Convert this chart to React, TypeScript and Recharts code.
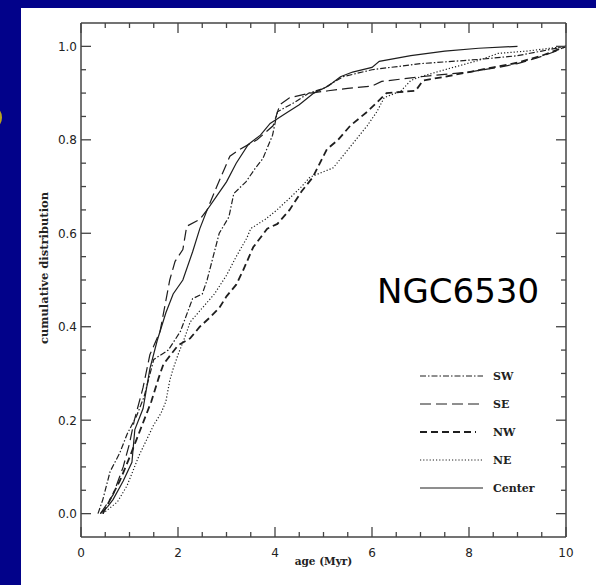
import { LineChart, Line, XAxis, YAxis, Legend } from 'recharts';

// [age (Myr), cumulative fraction]
const sw = [
  [0.35, 0], [0.45, 0.03], [0.6, 0.09], [0.8, 0.13], [0.95, 0.17], [1.15, 0.21], [1.3, 0.25],
  [1.5, 0.33], [1.8, 0.35], [2.05, 0.39], [2.3, 0.46], [2.5, 0.47], [2.6, 0.5], [2.75, 0.56],
  [2.85, 0.6], [3.05, 0.635], [3.15, 0.685], [3.4, 0.71], [3.6, 0.74], [3.75, 0.76], [3.95, 0.81],
  [4.05, 0.86], [4.4, 0.88], [4.7, 0.9], [5.0, 0.91], [5.4, 0.935], [6.0, 0.95], [7.0, 0.963],
  [8.2, 0.972], [9.0, 0.98], [9.5, 0.99], [10, 1.0],
];
const se = [
  [0.4, 0], [0.66, 0.04], [0.87, 0.1], [1.0, 0.15], [1.1, 0.2], [1.28, 0.27], [1.42, 0.34],
  [1.63, 0.39], [1.83, 0.5], [1.94, 0.54], [2.1, 0.565], [2.18, 0.615], [2.45, 0.63], [2.6, 0.65],
  [2.8, 0.7], [3.07, 0.765], [3.28, 0.78], [3.63, 0.8], [3.96, 0.83], [4.1, 0.875], [4.3, 0.89],
  [4.72, 0.9], [5.1, 0.905], [5.5, 0.91], [6.0, 0.915], [6.2, 0.925], [7.0, 0.935], [8.0, 0.945],
  [8.6, 0.955], [9.0, 0.963], [9.4, 0.975], [9.8, 0.99], [10, 1.0],
];
const nw = [
  [0.45, 0], [0.6, 0.03], [0.8, 0.07], [1.0, 0.12], [1.15, 0.16], [1.3, 0.2], [1.45, 0.24],
  [1.6, 0.29], [1.7, 0.32], [1.85, 0.34], [2.0, 0.36], [2.25, 0.375], [2.45, 0.4], [2.66, 0.42],
  [2.85, 0.44], [3.0, 0.465], [3.2, 0.49], [3.34, 0.52], [3.55, 0.57], [3.84, 0.61], [4.05, 0.62],
  [4.3, 0.65], [4.55, 0.69], [4.78, 0.72], [5.07, 0.78], [5.3, 0.8], [5.55, 0.83], [5.9, 0.86],
  [6.1, 0.88], [6.3, 0.9], [6.9, 0.905], [7.05, 0.927], [7.5, 0.935], [8.0, 0.945], [8.5, 0.955],
  [9.0, 0.965], [9.5, 0.98], [10, 1.0],
];
const ne = [
  [0.45, 0], [0.75, 0.025], [0.95, 0.06], [1.2, 0.125], [1.5, 0.19], [1.65, 0.215], [1.75, 0.24],
  [1.83, 0.285], [1.9, 0.31], [2.0, 0.34], [2.15, 0.38], [2.25, 0.41], [2.5, 0.44], [2.75, 0.47],
  [3.0, 0.51], [3.2, 0.55], [3.42, 0.59], [3.5, 0.61], [3.8, 0.63], [4.04, 0.65], [4.3, 0.675],
  [4.55, 0.7], [4.72, 0.72], [5.2, 0.74], [5.55, 0.785], [5.9, 0.83], [6.1, 0.86], [6.25, 0.89],
  [6.6, 0.905], [6.8, 0.927], [7.0, 0.935], [7.5, 0.95], [8.2, 0.97], [8.6, 0.985], [9.2, 0.99],
  [10, 1.0],
];
const center = [
  [0.4, 0], [0.55, 0.015], [0.66, 0.03], [0.87, 0.07], [1.05, 0.11], [1.11, 0.18], [1.28, 0.225],
  [1.42, 0.31], [1.57, 0.37], [1.75, 0.43], [1.9, 0.47], [2.1, 0.5], [2.3, 0.56], [2.45, 0.61],
  [2.6, 0.65], [2.8, 0.68], [3.0, 0.71], [3.2, 0.75], [3.45, 0.79], [3.7, 0.81], [3.9, 0.835],
  [4.2, 0.855], [4.5, 0.875], [4.8, 0.9], [5.1, 0.915], [5.35, 0.935], [5.6, 0.945], [6.0, 0.955],
  [6.15, 0.968], [6.8, 0.98], [7.5, 0.99], [8.2, 0.996], [9.0, 1.0],
];

const xTicks = [0, 0.5, 1, 1.5, 2, 2.5, 3, 3.5, 4, 4.5, 5, 5.5, 6, 6.5, 7, 7.5, 8, 8.5, 9, 9.5, 10];
const yTicks = [
  0, 0.05, 0.1, 0.15, 0.2, 0.25, 0.3, 0.35, 0.4, 0.45, 0.5, 0.55, 0.6, 0.65, 0.7, 0.75, 0.8,
  0.85, 0.9, 0.95, 1.0,
];

const INK = '#1e1e1e';
const AXIS = '#444';
const TICK_FONT = '"DejaVu Sans", sans-serif';
const LABEL_FONT = '"DejaVu Serif", serif';

const series = [
  { name: 'SW', points: sw, dash: '6 2 1.5 2', width: 1.2 },
  { name: 'SE', points: se, dash: '11 5', width: 1.2 },
  { name: 'NW', points: nw, dash: '7 4', width: 1.8 },
  { name: 'NE', points: ne, dash: '1.2 2', width: 1.2 },
  { name: 'Center', points: center, dash: undefined, width: 1.2 },
];

const toRows = (pts: number[][]) => pts.map(([age, frac]) => ({ age, frac }));

const isMajorX = (v: number) => Math.abs(v / 2 - Math.round(v / 2)) < 1e-6;
const isMajorY = (v: number) => Math.abs(v * 5 - Math.round(v * 5)) < 1e-6;

const BottomTick = ({ x, y, payload }: any) => {
  const major = isMajorX(payload.value);
  return (
    <g>
      <line x1={x} x2={x} y1={y} y2={y - (major ? 10 : 5)} stroke={AXIS} strokeWidth={1.3} />
      {major && (
        <text x={x} y={y + 20} textAnchor="middle" fontSize={12} fontFamily={TICK_FONT} fill="#222">
          {payload.value}
        </text>
      )}
    </g>
  );
};

const TopTick = ({ x, y, payload }: any) => {
  const major = isMajorX(payload.value);
  return <line x1={x} x2={x} y1={y} y2={y + (major ? 10 : 5)} stroke={AXIS} strokeWidth={1.3} />;
};

const LeftTick = ({ x, y, payload }: any) => {
  const major = isMajorY(payload.value);
  return (
    <g>
      <line x1={x} x2={x + (major ? 10 : 5)} y1={y} y2={y} stroke={AXIS} strokeWidth={1.3} />
      {major && (
        <text x={x - 4} y={y} dy="0.36em" textAnchor="end" fontSize={12} fontFamily={TICK_FONT} fill="#222">
          {payload.value.toFixed(1)}
        </text>
      )}
    </g>
  );
};

const RightTick = ({ x, y, payload }: any) => {
  const major = isMajorY(payload.value);
  return <line x1={x} x2={x - (major ? 10 : 5)} y1={y} y2={y} stroke={AXIS} strokeWidth={1.3} />;
};

const YTitle = () => (
  <text
    x={44}
    y={268}
    transform="rotate(-90 44 268)"
    textAnchor="middle"
    dy="0.35em"
    fontSize={11.5}
    fontWeight="bold"
    fontFamily={LABEL_FONT}
    fill="#222"
  >
    cumulative distribution
  </text>
);

const CustomLegend = () => (
  <div style={{ fontFamily: LABEL_FONT, fontSize: 11, fontWeight: 'bold', color: '#222' }}>
    {series.map((s) => (
      <div key={s.name} style={{ display: 'flex', alignItems: 'center', height: 28 }}>
        <svg width={64} height={8}>
          <line
            x1={0}
            x2={s.name === 'NW' ? 56 : 63}
            y1={4}
            y2={4}
            stroke={INK}
            strokeWidth={s.name === 'NW' ? 2.2 : 1}
            strokeDasharray={s.dash}
          />
        </svg>
        <span style={{ marginLeft: 9 }}>{s.name}</span>
      </div>
    ))}
  </div>
);

export default function App() {
  return (
    <div style={{ position: 'fixed', left: 0, top: 0, width: 596, height: 585, background: '#02028a', overflow: 'hidden' }}>
      <div style={{ position: 'absolute', left: 21, top: 8, width: 575, height: 577, background: '#fff' }} />
      <div
        style={{
          position: 'absolute',
          left: -11,
          top: 108,
          width: 9,
          height: 15,
          border: '2px solid #b9a41c',
          borderRadius: '50%',
        }}
      />
      <div style={{ position: 'absolute', left: 0, top: 0 }}>
        <LineChart width={596} height={585} margin={{ top: 13, right: 20, bottom: 26, left: 21 }}>
          <XAxis
            xAxisId="bottom"
            dataKey="age"
            type="number"
            domain={[0, 10]}
            ticks={xTicks}
            interval={0}
            height={22}
            tickLine={false}
            tickSize={0}
            tickMargin={0}
            tick={<BottomTick />}
            axisLine={{ stroke: AXIS, strokeWidth: 1.5 }}
            allowDataOverflow
            label={{
              value: 'age (Myr)',
              position: 'bottom',
              offset: -1,
              style: { fontSize: 10.5, fontWeight: 'bold', fontFamily: LABEL_FONT, fill: '#222' },
            }}
          />
          <XAxis
            xAxisId="top"
            orientation="top"
            dataKey="age"
            type="number"
            domain={[0, 10]}
            ticks={xTicks}
            interval={0}
            height={10}
            tickLine={false}
            tickSize={0}
            tickMargin={0}
            tick={<TopTick />}
            axisLine={{ stroke: AXIS, strokeWidth: 1.5 }}
            allowDataOverflow
          />
          <YAxis
            yAxisId="left"
            type="number"
            domain={[-0.05, 1.05]}
            ticks={yTicks}
            interval={0}
            width={60}
            tickLine={false}
            tickSize={0}
            tickMargin={0}
            tick={<LeftTick />}
            axisLine={{ stroke: AXIS, strokeWidth: 1.5 }}
            allowDataOverflow
            label={{ content: <YTitle /> }}
          />
          <YAxis
            yAxisId="right"
            orientation="right"
            type="number"
            domain={[-0.05, 1.05]}
            ticks={yTicks}
            interval={0}
            width={10}
            tickLine={false}
            tickSize={0}
            tickMargin={0}
            tick={<RightTick />}
            axisLine={{ stroke: AXIS, strokeWidth: 1.5 }}
            allowDataOverflow
          />
          {series.map((s) => (
            <Line
              key={s.name}
              xAxisId="bottom"
              yAxisId="left"
              data={toRows(s.points)}
              dataKey="frac"
              name={s.name}
              type="linear"
              stroke={INK}
              strokeWidth={s.width}
              strokeDasharray={s.dash}
              dot={false}
              activeDot={false}
              isAnimationActive={false}
            />
          ))}
          <Legend
            content={<CustomLegend />}
            layout="horizontal"
            verticalAlign="middle"
            align="center"
            wrapperStyle={{ left: 420, top: 362, width: 'auto' }}
          />
        </LineChart>
      </div>
      <div
        style={{
          position: 'absolute',
          left: 377,
          top: 274,
          fontFamily: '"DejaVu Sans", sans-serif',
          fontSize: 34,
          lineHeight: 1,
          color: '#000',
          whiteSpace: 'nowrap',
        }}
      >
        NGC6530
      </div>
    </div>
  );
}
